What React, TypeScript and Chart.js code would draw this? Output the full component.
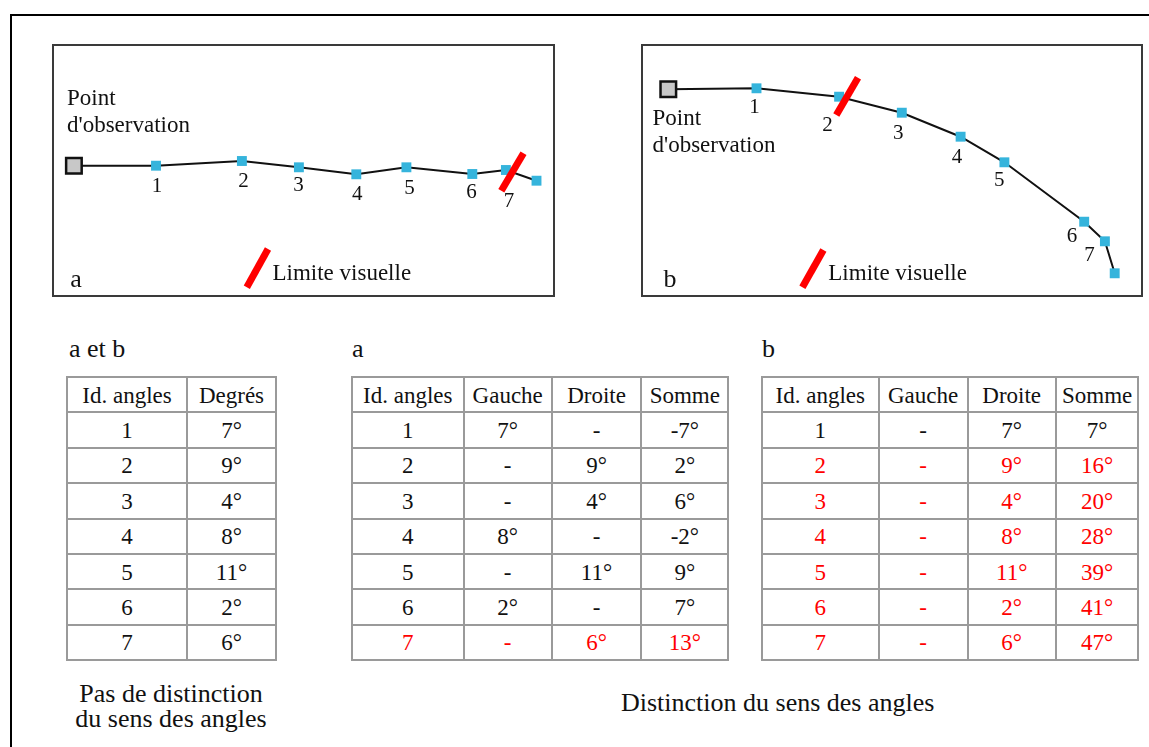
import React, { useEffect, useRef } from 'react';
import { Chart, registerables } from 'chart.js';

Chart.register(...registerables);

// ---------- Data ----------
const angleIds = ['1', '2', '3', '4', '5', '6', '7'];
const degrees = [7, 9, 4, 8, 11, 2, 6];
const gaucheA: (number | null)[] = [7, null, null, 8, null, 2, null];
const droiteA: (number | null)[] = [null, 9, 4, null, 11, null, 6];
const sommeA = [-7, 2, 6, -2, 9, 7, 13];
const gaucheB: (number | null)[] = [null, null, null, null, null, null, null];
const droiteB: (number | null)[] = [7, 9, 4, 8, 11, 2, 6];
const sommeB = [7, 16, 20, 28, 39, 41, 47];
const firstRowBeyondLimitA = 6; // angle 7
const firstRowBeyondLimitB = 1; // angle 2

// path a : observation point, angles 1..7, end point (map units)
const pathAx = [21.9, 104, 189.9, 246.9, 304.3, 354.4, 420.3, 453.9, 484.5];
const pathAy = [121.7, 121.7, 117, 123.3, 130.3, 123.3, 130, 126, 136.7];
const limitAx = [471.5, 449.3];
const limitAy = [109.3, 146.7];
const keySlashAx = [216, 194.8];
const keySlashAy = [205, 243.3];

// path b
const pathBx = [27.3, 115.5, 198.1, 260.8, 319.6, 363.4, 443.2, 463.9, 473.7];
const pathBy = [45.3, 44.3, 52.7, 68.7, 92.7, 118.3, 177.7, 197.3, 229.3];
const limitBx = [217, 195.3];
const limitBy = [33.7, 71];
const keySlashBx = [182.4, 161.4];
const keySlashBy = [206, 243.3];

// ---------- Styles ----------
const SERIF = "'Liberation Serif', 'Times New Roman', serif";
const CYAN = '#35b4dc';
const RED = '#ff0000';
const GRID = '#9a9a9a';

type PanelSpec = {
  left: number;
  top: number;
  width: number;
  height: number;
  xs: number[];
  ys: number[];
  limX: number[];
  limY: number[];
  keyX: number[];
  keyY: number[];
  labelOffsets: [number, number][];
  pointText: [number, number, number]; // x, baseline1, baseline2
  keyText: [number, number];
  letter: string;
  letterPos: [number, number];
};

const panelA: PanelSpec = {
  left: 52,
  top: 44,
  width: 503,
  height: 253,
  xs: pathAx,
  ys: pathAy,
  limX: limitAx,
  limY: limitAy,
  keyX: keySlashAx,
  keyY: keySlashAy,
  labelOffsets: [
    [1, 20.3],
    [1.5, 20.7],
    [-0.4, 17.7],
    [1, 20],
    [3, 21],
    [-0.8, 18.3],
    [3, 31.7],
  ],
  pointText: [15, 61, 88],
  keyText: [220.5, 236],
  letter: 'a',
  letterPos: [24, 243],
};

const panelB: PanelSpec = {
  left: 641,
  top: 44,
  width: 502,
  height: 253,
  xs: pathBx,
  ys: pathBy,
  limX: limitBx,
  limY: limitBy,
  keyX: keySlashBx,
  keyY: keySlashBy,
  labelOffsets: [
    [-2, 19],
    [-11.5, 28.3],
    [-3.5, 20.6],
    [-3.5, 20.6],
    [-5.2, 18.4],
    [-12.2, 15],
    [-15.4, 13.7],
  ],
  pointText: [11.5, 81, 108],
  keyText: [187.3, 236],
  letter: 'b',
  letterPos: [29, 243],
};

function Panel({ spec }: { spec: PanelSpec }) {
  const ref = useRef<HTMLCanvasElement>(null);

  useEffect(() => {
    const canvas = ref.current!;
    const pts = spec.xs.map((x, i) => ({ x, y: spec.ys[i] }));
    const lim = spec.limX.map((x, i) => ({ x, y: spec.limY[i] }));
    const key = spec.keyX.map((x, i) => ({ x, y: spec.keyY[i] }));

    const labelPlugin = {
      id: 'panelLabels',
      afterDatasetsDraw(chart: any) {
        const { ctx, scales } = chart;
        const sx = scales.x;
        const sy = scales.y;
        ctx.save();
        ctx.fillStyle = '#111';
        ctx.font = `21px ${SERIF}`;
        ctx.textAlign = 'center';
        ctx.textBaseline = 'middle';
        angleIds.forEach((id, i) => {
          const px = sx.getPixelForValue(spec.xs[i + 1]) + spec.labelOffsets[i][0];
          const py = sy.getPixelForValue(spec.ys[i + 1]) + spec.labelOffsets[i][1];
          ctx.fillText(id, px, py);
        });
        ctx.textAlign = 'left';
        ctx.textBaseline = 'alphabetic';
        ctx.font = `23px ${SERIF}`;
        ctx.fillText('Point', spec.pointText[0], spec.pointText[1]);
        ctx.fillText("d'observation", spec.pointText[0], spec.pointText[2]);
        ctx.fillText('Limite visuelle', spec.keyText[0], spec.keyText[1]);
        ctx.font = `26px ${SERIF}`;
        ctx.textAlign = 'center';
        ctx.fillText(spec.letter, spec.letterPos[0], spec.letterPos[1]);
        ctx.restore();
      },
    };

    const chart = new Chart(canvas, {
      type: 'scatter',
      data: {
        datasets: [
          {
            data: lim,
            showLine: true,
            borderColor: RED,
            borderWidth: 7,
            borderCapStyle: 'butt',
            pointRadius: 0,
            order: 0,
          } as any,
          {
            data: key,
            showLine: true,
            borderColor: RED,
            borderWidth: 7,
            borderCapStyle: 'butt',
            pointRadius: 0,
            order: 1,
          } as any,
          {
            data: pts,
            showLine: true,
            borderColor: '#111',
            borderWidth: 2,
            pointStyle: 'rect',
            pointRadius: pts.map((_, i) => (i === 0 ? 11 : 7)),
            pointBackgroundColor: pts.map((_, i) => (i === 0 ? '#c8c8c8' : CYAN)),
            pointBorderColor: pts.map((_, i) => (i === 0 ? '#111' : CYAN)),
            pointBorderWidth: pts.map((_, i) => (i === 0 ? 2.5 : 0)),
            order: 2,
          } as any,
        ],
      },
      options: {
        animation: false,
        responsive: false,
        events: [],
        layout: { padding: 0, autoPadding: false },
        plugins: { legend: { display: false }, tooltip: { enabled: false } },
        scales: {
          x: { type: 'linear', min: 0, max: spec.width, display: false },
          y: { type: 'linear', min: 0, max: spec.height, reverse: true, display: false },
        },
      },
      plugins: [labelPlugin],
    });
    return () => chart.destroy();
  }, [spec]);

  return (
    <div
      style={{
        position: 'absolute',
        left: spec.left,
        top: spec.top,
        width: spec.width,
        height: spec.height,
      }}
    >
      <canvas
        ref={ref}
        width={spec.width}
        height={spec.height}
        style={{ position: 'absolute', left: 0, top: 0, width: spec.width, height: spec.height }}
      />
      <div
        style={{
          position: 'absolute',
          left: 0,
          top: 0,
          width: spec.width,
          height: spec.height,
          border: '2px solid #3a3a3a',
          boxSizing: 'border-box',
          pointerEvents: 'none',
        }}
      />
    </div>
  );
}

const fmt = (v: number | null) => (v === null ? '-' : `${v}°`);

function Grid({
  left,
  top,
  cols,
  header,
  rows,
  redFrom,
}: {
  left: number;
  top: number;
  cols: number[];
  header: string[];
  rows: string[][];
  redFrom: number;
}) {
  const cells: React.ReactNode[] = [];
  const all = [header, ...rows];
  all.forEach((r, ri) => {
    r.forEach((c, ci) => {
      const red = ri > 0 && ri - 1 >= redFrom;
      cells.push(
        <div
          key={`${ri}-${ci}`}
          style={{
            borderRight: `2px solid ${GRID}`,
            borderBottom: `2px solid ${GRID}`,
            boxSizing: 'border-box',
            display: 'flex',
            alignItems: 'center',
            justifyContent: 'center',
            color: red ? RED : '#111',
            paddingTop: 1,
          }}
        >
          {c}
        </div>
      );
    });
  });
  return (
    <div
      style={{
        position: 'absolute',
        left,
        top,
        display: 'grid',
        gridTemplateColumns: cols.map((c) => `${c}px`).join(' '),
        gridAutoRows: '35.375px',
        borderTop: `2px solid ${GRID}`,
        borderLeft: `2px solid ${GRID}`,
        fontFamily: SERIF,
        fontSize: 23,
        lineHeight: 1,
      }}
    >
      {cells}
    </div>
  );
}

const textStyle = (left: number, top: number, size: number): React.CSSProperties => ({
  position: 'absolute',
  left,
  top,
  fontFamily: SERIF,
  fontSize: size,
  lineHeight: `${size}px`,
  color: '#111',
  whiteSpace: 'nowrap',
});

export default function App() {
  const rows1 = angleIds.map((id, i) => [id, fmt(degrees[i])]);
  const rowsA = angleIds.map((id, i) => [id, fmt(gaucheA[i]), fmt(droiteA[i]), fmt(sommeA[i])]);
  const rowsB = angleIds.map((id, i) => [id, fmt(gaucheB[i]), fmt(droiteB[i]), fmt(sommeB[i])]);

  return (
    <div
      style={{
        position: 'fixed',
        left: 0,
        top: 0,
        width: 1149,
        height: 747,
        background: '#fff',
        overflow: 'hidden',
      }}
    >
      {/* outer frame */}
      <div
        style={{
          position: 'absolute',
          left: 10,
          top: 14,
          width: 1149,
          height: 760,
          borderTop: '2px solid #000',
          borderLeft: '2px solid #000',
          boxSizing: 'border-box',
        }}
      />
      <Panel spec={panelA} />
      <Panel spec={panelB} />

      <div style={textStyle(69, 336, 26)}>a et b</div>
      <div style={textStyle(352, 336, 26)}>a</div>
      <div style={textStyle(762, 336, 26)}>b</div>

      <Grid left={66} top={376} cols={[120, 89]} header={['Id. angles', 'Degrés']} rows={rows1} redFrom={99} />
      <Grid
        left={351}
        top={376}
        cols={[111.5, 88.4, 89.3, 87.3]}
        header={['Id. angles', 'Gauche', 'Droite', 'Somme']}
        rows={rowsA}
        redFrom={firstRowBeyondLimitA}
      />
      <Grid
        left={761}
        top={376}
        cols={[116.5, 89, 88.4, 82.6]}
        header={['Id. angles', 'Gauche', 'Droite', 'Somme']}
        rows={rowsB}
        redFrom={firstRowBeyondLimitB}
      />

      <div style={{ ...textStyle(71, 681, 26), width: 200, textAlign: 'center', lineHeight: '25px' }}>
        Pas de distinction
        <br />
        du sens des angles
      </div>
      <div style={textStyle(621, 690, 26)}>Distinction du sens des angles</div>
    </div>
  );
}
